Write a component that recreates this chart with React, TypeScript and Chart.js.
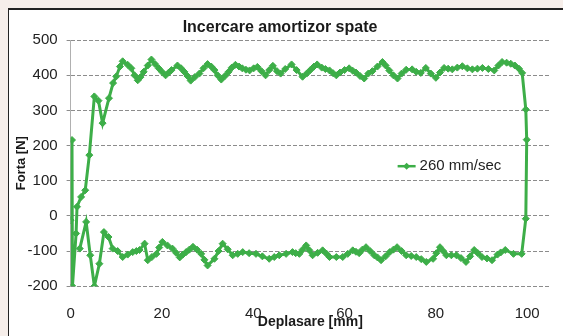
import React, { useEffect, useRef } from "react";
import { Chart, registerables } from "chart.js";

Chart.register(...registerables);

const chartTitle = "Incercare amortizor spate";
const xAxisTitle = "Deplasare [mm]";
const yAxisTitle = "Forta [N]";
const seriesLabel = "260 mm/sec";

// forward stroke (upper branch), displacement [mm]
const pushX = [
  0.0, 0.3, 0.4, 1.2, 1.4, 2.3, 3.2, 4.1, 5.2, 6.1, 7.0, 8.4, 9.3, 10.0, 10.8, 11.4, 12.5, 13.3, 14.0, 14.7,
  15.3, 16.0, 16.9, 17.7, 18.5, 19.3, 20.0, 20.8, 21.5, 22.1, 23.4, 24.2, 24.9, 25.6, 26.3, 27.2, 28.2, 29.1,
  30.0, 30.8, 31.5, 32.2, 33.0, 33.8, 34.6, 35.3, 36.1, 36.9, 37.6, 38.4, 39.2, 40.1, 40.9, 41.8, 42.7, 43.5,
  44.3, 45.2, 46.0, 47.0, 48.4, 49.5, 50.8, 51.7, 52.5, 53.3, 54.0, 55.0, 55.8, 56.7, 57.5, 58.2, 59.0, 60.0,
  61.0, 61.8, 62.5, 63.4, 64.3, 65.2, 66.1, 67.2, 68.3, 69.0, 69.8, 70.7, 71.6, 72.5, 73.5, 74.8, 75.7, 76.7,
  77.8, 78.9, 80.0, 80.9, 81.8, 82.7, 83.6, 84.7, 85.8, 86.9, 88.0, 89.1, 90.2, 91.5, 92.8, 93.7, 94.5, 95.5,
  96.4, 97.3, 98.2, 98.9, 99.7, 99.9, 99.7, 98.8,
];
// forward stroke force [N]
const pushY = [
  -12, 216, -200, -50, 26, 54, 73, 173, 340, 328, 264, 335, 378, 397, 425, 440, 430, 420, 400, 386,
  395, 410, 428, 445, 432, 420, 410, 400, 408, 415, 428, 420, 410, 398, 385, 395, 405, 420,
  432, 425, 415, 400, 388, 398, 410, 422, 430, 425, 420, 416, 414, 420, 424, 412, 400, 415,
  427, 412, 405, 418, 431, 415, 396, 405, 415, 425, 431, 422, 418, 414, 406, 400, 408, 415,
  420, 413, 408, 398, 391, 405, 412, 425, 438, 428, 414, 400, 391, 405, 416, 417, 410, 407,
  421, 405, 393, 408, 421, 419, 417, 422, 426, 420, 417, 419, 421, 418, 414, 428, 438, 436,
  433, 428, 419, 407, 303, 217, -8, -108,
];
// return stroke (lower branch), displacement [mm]
const returnX = [
  97.0, 95.2, 94.2, 93.5, 92.3, 91.2, 90.1, 89.2, 88.4, 87.5, 86.6, 85.5, 84.5, 83.4, 82.3, 81.6, 80.9, 80.1,
  79.4, 77.9, 76.8, 75.7, 74.6, 73.5, 72.5, 71.5, 70.7, 69.9, 69.0, 68.0, 67.2, 66.5, 65.6, 64.7, 63.9, 63.2,
  62.5, 61.8, 60.7, 59.6, 58.2, 56.7, 56.0, 55.2, 54.1, 53.0, 52.3, 51.6, 50.8, 50.1, 49.3, 48.6, 47.2, 45.7,
  44.6, 43.5, 42.0, 40.6, 39.1, 37.7, 36.6, 35.5, 34.4, 33.3, 32.4, 31.5, 30.0, 29.3, 28.6, 27.7, 26.8, 26.0,
  25.3, 24.6, 23.9, 23.1, 22.3, 21.2, 20.1, 19.4, 18.8, 17.8, 16.9, 16.2, 15.1, 14.4, 13.6, 12.5, 11.4, 10.3,
  9.2, 8.3, 7.3, 6.3, 5.2, 4.3, 3.4, 2.0,
];
// return stroke force [N]
const returnY = [
  -108, -97, -104, -110, -126, -121, -117, -106, -97, -115, -131, -120, -112, -112, -112, -100, -89, -106,
  -122, -131, -123, -117, -114, -112, -100, -89, -96, -103, -115, -126, -118, -112, -100, -89, -96, -106,
  -102, -98, -108, -117, -117, -117, -107, -98, -105, -112, -98, -84, -96, -108, -106, -103, -108, -112,
  -117, -122, -115, -108, -106, -103, -108, -112, -95, -79, -100, -122, -141, -125, -108, -96, -88, -96,
  -103, -110, -118, -105, -93, -84, -74, -90, -108, -117, -126, -79, -97, -100, -103, -110, -117, -100,
  -93, -60, -46, -136, -200, -112, -17, -93,
];

const yTicks = [-200, -100, 0, 100, 200, 300, 400, 500];
const xTicks = [0, 20, 40, 60, 80, 100];

const lineColor = "#3dae48";
const FONT = "'Liberation Sans', Arial, sans-serif";

const insideLegend = {
  id: "insideLegend",
  afterDatasetsDraw(chart: any) {
    const { ctx, chartArea } = chart;
    const ds = chart.data.datasets[0];
    const x0 = chartArea.left + 327;
    const y0 = chartArea.top + 126;
    ctx.save();
    ctx.strokeStyle = lineColor;
    ctx.lineWidth = 2.5;
    ctx.beginPath();
    ctx.moveTo(x0, y0);
    ctx.lineTo(x0 + 18, y0);
    ctx.stroke();
    ctx.fillStyle = lineColor;
    ctx.beginPath();
    const cx = x0 + 9;
    ctx.moveTo(cx, y0 - 3.5);
    ctx.lineTo(cx + 3.5, y0);
    ctx.lineTo(cx, y0 + 3.5);
    ctx.lineTo(cx - 3.5, y0);
    ctx.closePath();
    ctx.fill();
    ctx.fillStyle = "#222";
    ctx.font = `15px ${FONT}`;
    ctx.textBaseline = "middle";
    ctx.textAlign = "left";
    ctx.fillText(ds.label, x0 + 22, y0);
    ctx.restore();
  },
};

const frame = {
  id: "frame",
  beforeDraw(chart: any) {
    const { ctx, width, height } = chart;
    ctx.save();
    ctx.fillStyle = "#ffffff";
    ctx.fillRect(0, 0, width, height);
    ctx.strokeStyle = "#222";
    ctx.lineWidth = 2;
    ctx.beginPath();
    ctx.moveTo(0, height);
    ctx.lineTo(0, 1);
    ctx.lineTo(width, 1);
    ctx.stroke();
    ctx.restore();
  },
};

export default function App() {
  const ref = useRef<HTMLCanvasElement | null>(null);

  useEffect(() => {
    document.body.style.margin = "0";
    document.body.style.overflow = "hidden";
    document.documentElement.style.overflow = "hidden";
    const points = [
      ...pushX.map((x, i) => ({ x, y: pushY[i] })),
      ...returnX.map((x, i) => ({ x, y: returnY[i] })),
    ];
    const chart = new Chart(ref.current as HTMLCanvasElement, {
      type: "scatter",
      data: {
        datasets: [
          {
            label: seriesLabel,
            data: points,
            showLine: true,
            borderColor: lineColor,
            backgroundColor: lineColor,
            borderWidth: 3,
            pointStyle: "rectRot",
            pointRadius: 3.5,
            pointBorderWidth: 1,
            pointBorderColor: lineColor,
            pointBackgroundColor: lineColor,
            tension: 0,
          },
        ],
      },
      options: {
        responsive: false,
        animation: false,
        layout: { padding: { left: 2, right: 13, top: 0, bottom: 5 } },
        plugins: {
          legend: { display: false },
          tooltip: { enabled: false },
          title: {
            display: true,
            text: chartTitle,
            color: "#1a1a1a",
            font: { family: FONT, size: 16, weight: "bold" },
            padding: { top: 10, bottom: 3 },
          },
        },
        scales: {
          x: {
            type: "linear",
            min: 0,
            max: 105,
            afterBuildTicks: (scale: any) => {
              scale.ticks = xTicks.map((v) => ({ value: v }));
            },
            ticks: {
              color: "#222",
              font: { family: FONT, size: 15 },
              padding: 19,
              maxRotation: 0,
            },
            grid: { display: false, drawTicks: false },
            border: { display: false },
            title: {
              display: true,
              text: xAxisTitle,
              color: "#1a1a1a",
              font: { family: FONT, size: 14, weight: "bold" },
              padding: { top: -28, bottom: 0 },
            },
          },
          y: {
            type: "linear",
            min: -200,
            max: 500,
            afterBuildTicks: (scale: any) => {
              scale.ticks = yTicks.map((v) => ({ value: v }));
            },
            ticks: {
              color: "#222",
              font: { family: FONT, size: 15 },
              padding: 9,
            },
            grid: { color: "#8c8c8c", lineWidth: 1, tickLength: 4, drawTicks: true },
            border: { display: true, color: "#b0b0b0", width: 1, dash: [4, 2] },
            title: {
              display: true,
              text: yAxisTitle,
              color: "#1a1a1a",
              font: { family: FONT, size: 13, weight: "bold" },
              padding: { top: 4, bottom: -11 },
            },
          },
        },
      },
      plugins: [frame, insideLegend],
    });
    return () => chart.destroy();
  }, []);

  return (
    <div
      style={{
        width: 563,
        height: 336,
        boxSizing: "border-box",
        paddingLeft: 8,
        paddingTop: 8,
        background: "#f6eeea",
        overflow: "hidden",
      }}
    >
      <canvas ref={ref} width={555} height={328} style={{ display: "block", width: 555, height: 328 }} />
    </div>
  );
}
